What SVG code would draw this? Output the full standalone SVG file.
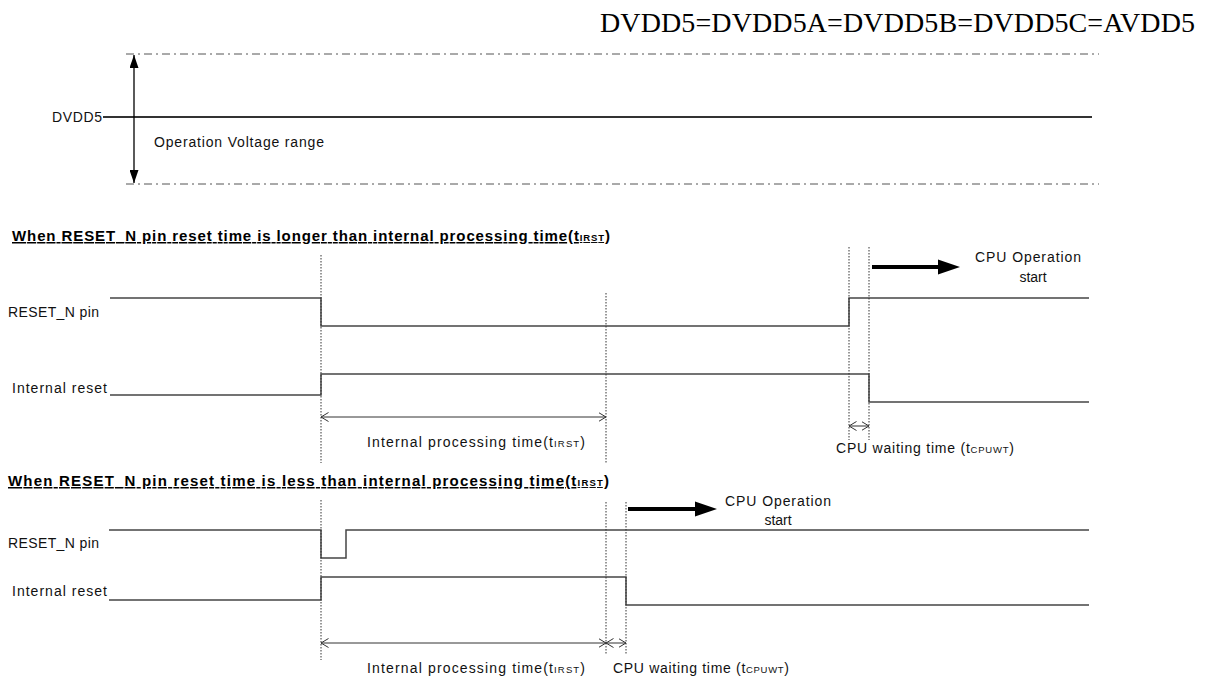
<svg xmlns="http://www.w3.org/2000/svg" width="1210" height="682" viewBox="0 0 1210 682">
<style>
.lbl{font-family:"Liberation Sans",Arial,sans-serif;font-size:14px;fill:#111}
.hd{font-family:"Liberation Sans",Arial,sans-serif;font-size:15px;font-weight:bold;fill:#000;text-decoration:underline}
.sub{font-size:9.5px}
.ttl{font-family:"Liberation Serif","Times New Roman",serif;font-size:28px;fill:#000}
.wave{fill:none;stroke:#454545;stroke-width:1.5}
.dd{fill:none;stroke:#333;stroke-width:1;stroke-dasharray:1.5 1.5}
.dash{fill:none;stroke:#555;stroke-width:1;stroke-dasharray:8 4 2 4}
.dim{fill:none;stroke:#333;stroke-width:1;marker-start:url(#oa);marker-end:url(#oa)}
.thick{fill:none;stroke:#000;stroke-width:4}
</style>
<defs>
<marker id="oa" viewBox="0 0 8 10" refX="7.5" refY="5" markerWidth="8" markerHeight="10" markerUnits="userSpaceOnUse" orient="auto-start-reverse">
<path d="M0,0.5 L7.5,5 L0,9.5" fill="none" stroke="#333" stroke-width="1"/>
</marker>
<marker id="fa" viewBox="0 0 13 9" refX="13" refY="4.5" markerWidth="13" markerHeight="9" markerUnits="userSpaceOnUse" orient="auto-start-reverse">
<path d="M0,0 L13,4.5 L0,9 z" fill="#000"/>
</marker>
</defs>
<rect width="1210" height="682" fill="#fff"/>

<g id="title">
<text class="ttl" x="1195" y="32" text-anchor="end" textLength="595">DVDD5=DVDD5A=DVDD5B=DVDD5C=AVDD5</text>
</g>

<g id="voltage">
<path class="dash" d="M126,54 H1099"/>
<path class="dash" d="M126,184 H1099"/>
<path d="M103,117 H1092" fill="none" stroke="#333" stroke-width="2"/>
<path d="M134,55 V183" fill="none" stroke="#000" stroke-width="1.3" marker-start="url(#fa)" marker-end="url(#fa)"/>
<text class="lbl" x="52" y="122" textLength="50">DVDD5</text>
<text class="lbl" x="154" y="147" textLength="170">Operation Voltage range</text>
</g>

<g id="case1">
<text class="hd" x="12" y="241" textLength="598">When RESET_N pin reset time is longer than internal processing time(t<tspan class="sub">IRST</tspan>)</text>
<text class="lbl" x="8" y="317" textLength="91">RESET_N pin</text>
<text class="lbl" x="12" y="393" textLength="95">Internal reset</text>
<text class="lbl" x="975" y="262" textLength="106">CPU Operation</text>
<text class="lbl" x="1033" y="282" text-anchor="middle">start</text>
<text class="lbl" x="367" y="447" textLength="218">Internal processing time(t<tspan class="sub">IRST</tspan>)</text>
<text class="lbl" x="836" y="453" textLength="178">CPU waiting time (t<tspan class="sub">CPUWT</tspan>)</text>
</g>

<g id="case2">
<text class="hd" x="8" y="486" textLength="601">When RESET_N pin reset time is less than internal processing time(t<tspan class="sub">IRST</tspan>)</text>
<text class="lbl" x="8" y="548" textLength="91">RESET_N pin</text>
<text class="lbl" x="12" y="596" textLength="95">Internal reset</text>
<text class="lbl" x="725" y="506" textLength="106">CPU Operation</text>
<text class="lbl" x="778" y="525" text-anchor="middle">start</text>
<text class="lbl" x="367" y="673" textLength="218">Internal processing time(t<tspan class="sub">IRST</tspan>)</text>
<text class="lbl" x="613" y="673" textLength="176">CPU waiting time (t<tspan class="sub">CPUWT</tspan>)</text>
</g>

<g id="connectors">
<!-- case 1 -->
<path class="wave" d="M110,298 H321 V326 H849 V298 H1089"/>
<path class="wave" d="M110,395 H321 V374 H869 V402 H1089"/>
<path class="dd" d="M321,255 V463"/>
<path class="dd" d="M606,293 V463"/>
<path class="dd" d="M849,247 V440"/>
<path class="dd" d="M869,247 V440"/>
<path class="dim" d="M321,417 H606"/>
<path class="dim" d="M849,426 H869"/>
<path class="thick" d="M872,267 H940"/>
<path d="M938,259.5 L960,267 L938,274.5 z" fill="#000"/>
<!-- case 2 -->
<path class="wave" d="M109,530 H321 V558 H346 V530 H1089"/>
<path class="wave" d="M109,600 H321 V577 H626 V605 H1089"/>
<path class="dd" d="M321,500 V660"/>
<path class="dd" d="M606,502 V655"/>
<path class="dd" d="M626,502 V655"/>
<path class="dim" d="M321,643 H606"/>
<path class="dim" d="M606,643 H626"/>
<path class="thick" d="M628,509 H697"/>
<path d="M695,501.5 L717,509 L695,516.5 z" fill="#000"/>
</g>
</svg>
